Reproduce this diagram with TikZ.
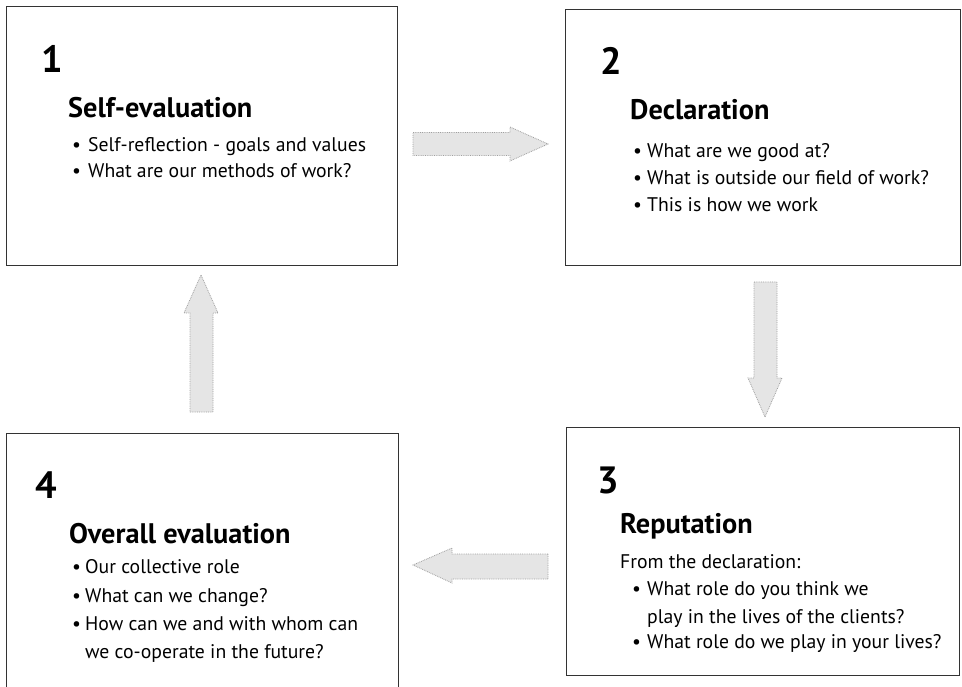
\documentclass[tikz,border=0pt]{standalone}
\usepackage{fontspec}
\setmainfont{PT Sans}
\begin{document}
\begin{tikzpicture}[x=1pt,y=-1pt,
  boxframe/.style={draw=black!80, line width=0.9pt, rectangle, inner sep=0, anchor=north west},
  numtxt/.style={anchor=base west, inner sep=0, font=\bfseries\fontsize{38}{38}\selectfont},
  headtxt/.style={anchor=base west, inner sep=0, font=\bfseries\fontsize{28.3}{28}\selectfont},
  bodytxt/.style={anchor=base west, inner sep=0, font=\fontsize{19.7}{20}\selectfont},
  blockarrow/.style={fill=gray!20, draw=gray!75, densely dotted, line width=0.8pt}]
\clip (0,0) rectangle (962,687);
\fill[white] (0,0) rectangle (962,687);
% boxes
\node[boxframe, minimum width=391pt, minimum height=259pt] (box1) at (6,6) {};
\node[boxframe, minimum width=395pt, minimum height=256pt] (box2) at (565,9) {};
\node[boxframe, minimum width=393pt, minimum height=248pt] (box3) at (566,427) {};
\node[boxframe, minimum width=392pt, minimum height=267pt] (box4) at (6,433) {};
% box 1
\node[numtxt] (n1) at (41,73) {1};
\node[headtxt] (h1) at (68,118) {Self-evaluation};
\node[bodytxt] (b1a) at (72,152) {•};
\node[bodytxt] (t1a) at (88,152) {Self-reflection - goals and values};
\node[bodytxt] (b1b) at (72,178) {•};
\node[bodytxt] (t1b) at (88,178) {What are our methods of work?};
% box 2
\node[numtxt] (n2) at (600,75) {2};
\node[headtxt] (h2) at (630,120) {Declaration};
\node[bodytxt] (b2a) at (633,158) {•};
\node[bodytxt] (t2a) at (647,158) {What are we good at?};
\node[bodytxt] (b2b) at (633,185) {•};
\node[bodytxt] (t2b) at (647,185) {What is outside our field of work?};
\node[bodytxt] (b2c) at (633,212) {•};
\node[bodytxt] (t2c) at (647,212) {This is how we work};
% box 3
\node[numtxt] (n3) at (597,493) {3};
\node[headtxt] (h3) at (620,533) {Reputation};
\node[bodytxt] (t3o) at (620,568) {From the declaration:};
\node[bodytxt] (b3a) at (632,595) {•};
\node[bodytxt] (t3a) at (647,595) {What role do you think we};
\node[bodytxt] (t3b) at (647,623) {play in the lives of the clients?};
\node[bodytxt] (b3c) at (632,648) {•};
\node[bodytxt] (t3c) at (647,648) {What role do we play in your lives?};
% box 4
\node[numtxt] (n4) at (35,498) {4};
\node[headtxt] (h4) at (69,543) {Overall evaluation};
\node[bodytxt] (b4a) at (72,573) {•};
\node[bodytxt] (t4a) at (85,573) {Our collective role};
\node[bodytxt] (b4b) at (72,602) {•};
\node[bodytxt] (t4b) at (85,602) {What can we change?};
\node[bodytxt] (b4c) at (72,630) {•};
\node[bodytxt] (t4c) at (85,630) {How can we and with whom can};
\node[bodytxt] (t4d) at (85,658) {we co-operate in the future?};
% block arrows
\draw[blockarrow] (413,132.5) -- (510,132.5) -- (510,127) -- (548,144) -- (510,161) -- (510,155.5) -- (413,155.5) -- cycle;
\draw[blockarrow] (754,282) -- (777,282) -- (777,378) -- (782,378) -- (765,417) -- (748,378) -- (754,378) -- cycle;
\draw[blockarrow] (190,412) -- (213,412) -- (213,313) -- (218,313) -- (201,275) -- (184,313) -- (190,313) -- cycle;
\draw[blockarrow] (548,554) -- (452,554) -- (452,548) -- (413,565) -- (452,583) -- (452,579) -- (548,579) -- cycle;
\end{tikzpicture}
\end{document}
